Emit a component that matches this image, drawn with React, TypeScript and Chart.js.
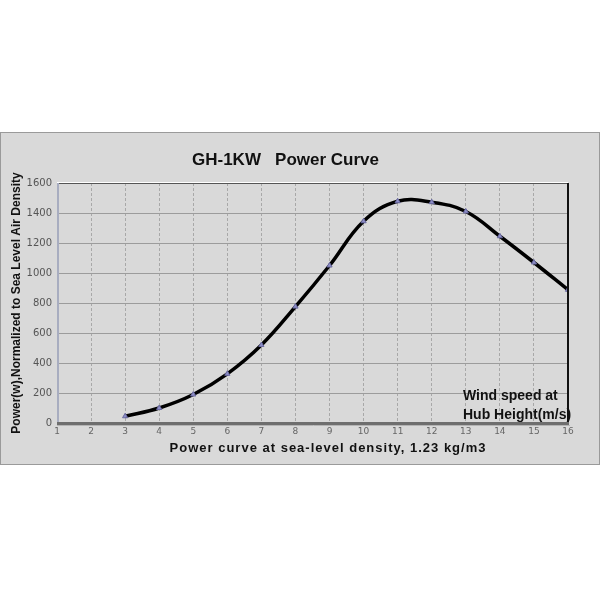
import React, { useEffect, useRef } from "react";
import { Chart, registerables } from "chart.js";

Chart.register(...registerables);

const windSpeeds = [3, 4, 5, 6, 7, 8, 9, 10, 11, 12, 13, 14, 15, 16];
const powerValues = [45, 100, 190, 328, 520, 776, 1050, 1345, 1478, 1472, 1410, 1245, 1070, 888];
const xTicks = [1, 2, 3, 4, 5, 6, 7, 8, 9, 10, 11, 12, 13, 14, 15, 16];
const yTicks = [0, 200, 400, 600, 800, 1000, 1200, 1400, 1600];

const chartTitle = "GH-1KW   Power Curve";
const xTitle = "Power curve at sea-level density, 1.23 kg/m3";
const yTitle = "Power(w),Normalized to Sea Level Air Density";
const noteLines = ["Wind speed at", "Hub Height(m/s)"];

const PANEL = "#d9d9d9";

const decorPlugin = {
  id: "decor",
  beforeDraw(chart: any) {
    const { ctx, width } = chart;
    ctx.save();
    ctx.fillStyle = "#ffffff";
    ctx.fillRect(0, 0, width, chart.height);
    ctx.fillStyle = PANEL;
    ctx.fillRect(0, 132, width, 333);
    ctx.strokeStyle = "#9a9a9a";
    ctx.lineWidth = 1;
    ctx.strokeRect(0.5, 132.5, width - 1, 332);
    ctx.restore();
  },
  afterDatasetsDraw(chart: any) {
    const { ctx, chartArea } = chart;
    const { left, right, top, bottom } = chartArea;
    ctx.save();
    ctx.strokeStyle = "#555555";
    ctx.lineWidth = 1;
    ctx.beginPath();
    ctx.moveTo(left, top + 0.5);
    ctx.lineTo(right, top + 0.5);
    ctx.stroke();
    ctx.strokeStyle = "#ffffff";
    ctx.beginPath();
    ctx.moveTo(left, top - 0.5);
    ctx.lineTo(right, top - 0.5);
    ctx.stroke();
    ctx.strokeStyle = "#111111";
    ctx.lineWidth = 2;
    ctx.beginPath();
    ctx.moveTo(right, top);
    ctx.lineTo(right, bottom);
    ctx.stroke();
    ctx.strokeStyle = "#a8adc0";
    ctx.lineWidth = 2;
    ctx.beginPath();
    ctx.moveTo(left + 1, top);
    ctx.lineTo(left + 1, bottom);
    ctx.stroke();
    ctx.strokeStyle = "#6e6e6e";
    ctx.lineWidth = 3;
    ctx.beginPath();
    ctx.moveTo(left, bottom + 0.5);
    ctx.lineTo(right + 1, bottom + 0.5);
    ctx.stroke();
    ctx.strokeStyle = "#b4b4b4";
    ctx.lineWidth = 1;
    ctx.beginPath();
    ctx.moveTo(left, bottom + 2.5);
    ctx.lineTo(right + 2, bottom + 2.5);
    ctx.stroke();
    ctx.fillStyle = "#111111";
    ctx.font = "bold 14px 'Liberation Sans', Arial, sans-serif";
    ctx.textAlign = "left";
    ctx.textBaseline = "alphabetic";
    ctx.fillText(noteLines[0], 463, 400);
    ctx.fillText(noteLines[1], 463, 419);
    ctx.font = "bold 13px 'Liberation Sans', Arial, sans-serif";
    (ctx as any).letterSpacing = "1px";
    ctx.textAlign = "center";
    ctx.fillText(xTitle, 328, 452);
    ctx.restore();
  },
};

export default function App() {
  const ref = useRef<HTMLCanvasElement>(null);
  useEffect(() => {
    if (!ref.current) return;
    const chart = new Chart(ref.current, {
      type: "line",
      data: {
        datasets: [
          {
            data: windSpeeds.map((x, i) => ({ x, y: powerValues[i] })),
            borderColor: "#000000",
            borderWidth: 3.5,
            tension: 0.4,
            pointStyle: "triangle",
            pointRadius: 3,
            pointBackgroundColor: "#8e8ec8",
            pointBorderColor: "#6a6aa0",
            pointBorderWidth: 1,
          },
        ],
      },
      options: {
        animation: false,
        responsive: false,
        layout: { padding: { top: 150, left: 3, right: 32, bottom: 142 } },
        plugins: {
          legend: { display: false },
          tooltip: { enabled: false },
          title: {
            display: true,
            text: chartTitle,
            color: "#111111",
            font: { family: "'Liberation Sans', Arial, sans-serif", size: 17, weight: "bold" },
            padding: { top: 0, bottom: 12.6 },
          },
        },
        scales: {
          x: {
            type: "linear",
            min: 1,
            max: 16,
            afterBuildTicks: (s: any) => {
              s.ticks = xTicks.map((v) => ({ value: v }));
            },
            afterFit: (s: any) => {
              s.height = 35;
            },
            grid: { color: "#a8a8a8", lineWidth: 1, drawTicks: false },
            border: { display: false, dash: [3, 2] },
            ticks: {
              color: "#666666",
              font: { family: "'DejaVu Sans', sans-serif", size: 9 },
              padding: 3,
              maxRotation: 0,
              autoSkip: false,
              callback: (v: any) => String(v),
            },
          },
          y: {
            type: "linear",
            min: 0,
            max: 1600,
            afterBuildTicks: (s: any) => {
              s.ticks = yTicks.map((v) => ({ value: v }));
            },
            afterFit: (s: any) => {
              s.width = 54;
            },
            grid: { color: "#9c9c9c", lineWidth: 1, drawTicks: false },
            border: { display: false },
            ticks: {
              color: "#555555",
              font: { family: "'DejaVu Sans', sans-serif", size: 10 },
              padding: 5,
              callback: (v: any) => String(v),
            },
            title: {
              display: true,
              text: yTitle,
              color: "#111111",
              font: { family: "'Liberation Sans', Arial, sans-serif", size: 12, weight: "bold" },
              padding: { top: 6, bottom: 0 },
            },
          },
        },
      },
      plugins: [decorPlugin],
    });
    return () => chart.destroy();
  }, []);
  return (
    <div style={{ position: "fixed", left: 0, top: 0, width: 600, height: 600 }}>
      <canvas ref={ref} width={600} height={600} style={{ width: 600, height: 600 }} />
    </div>
  );
}
